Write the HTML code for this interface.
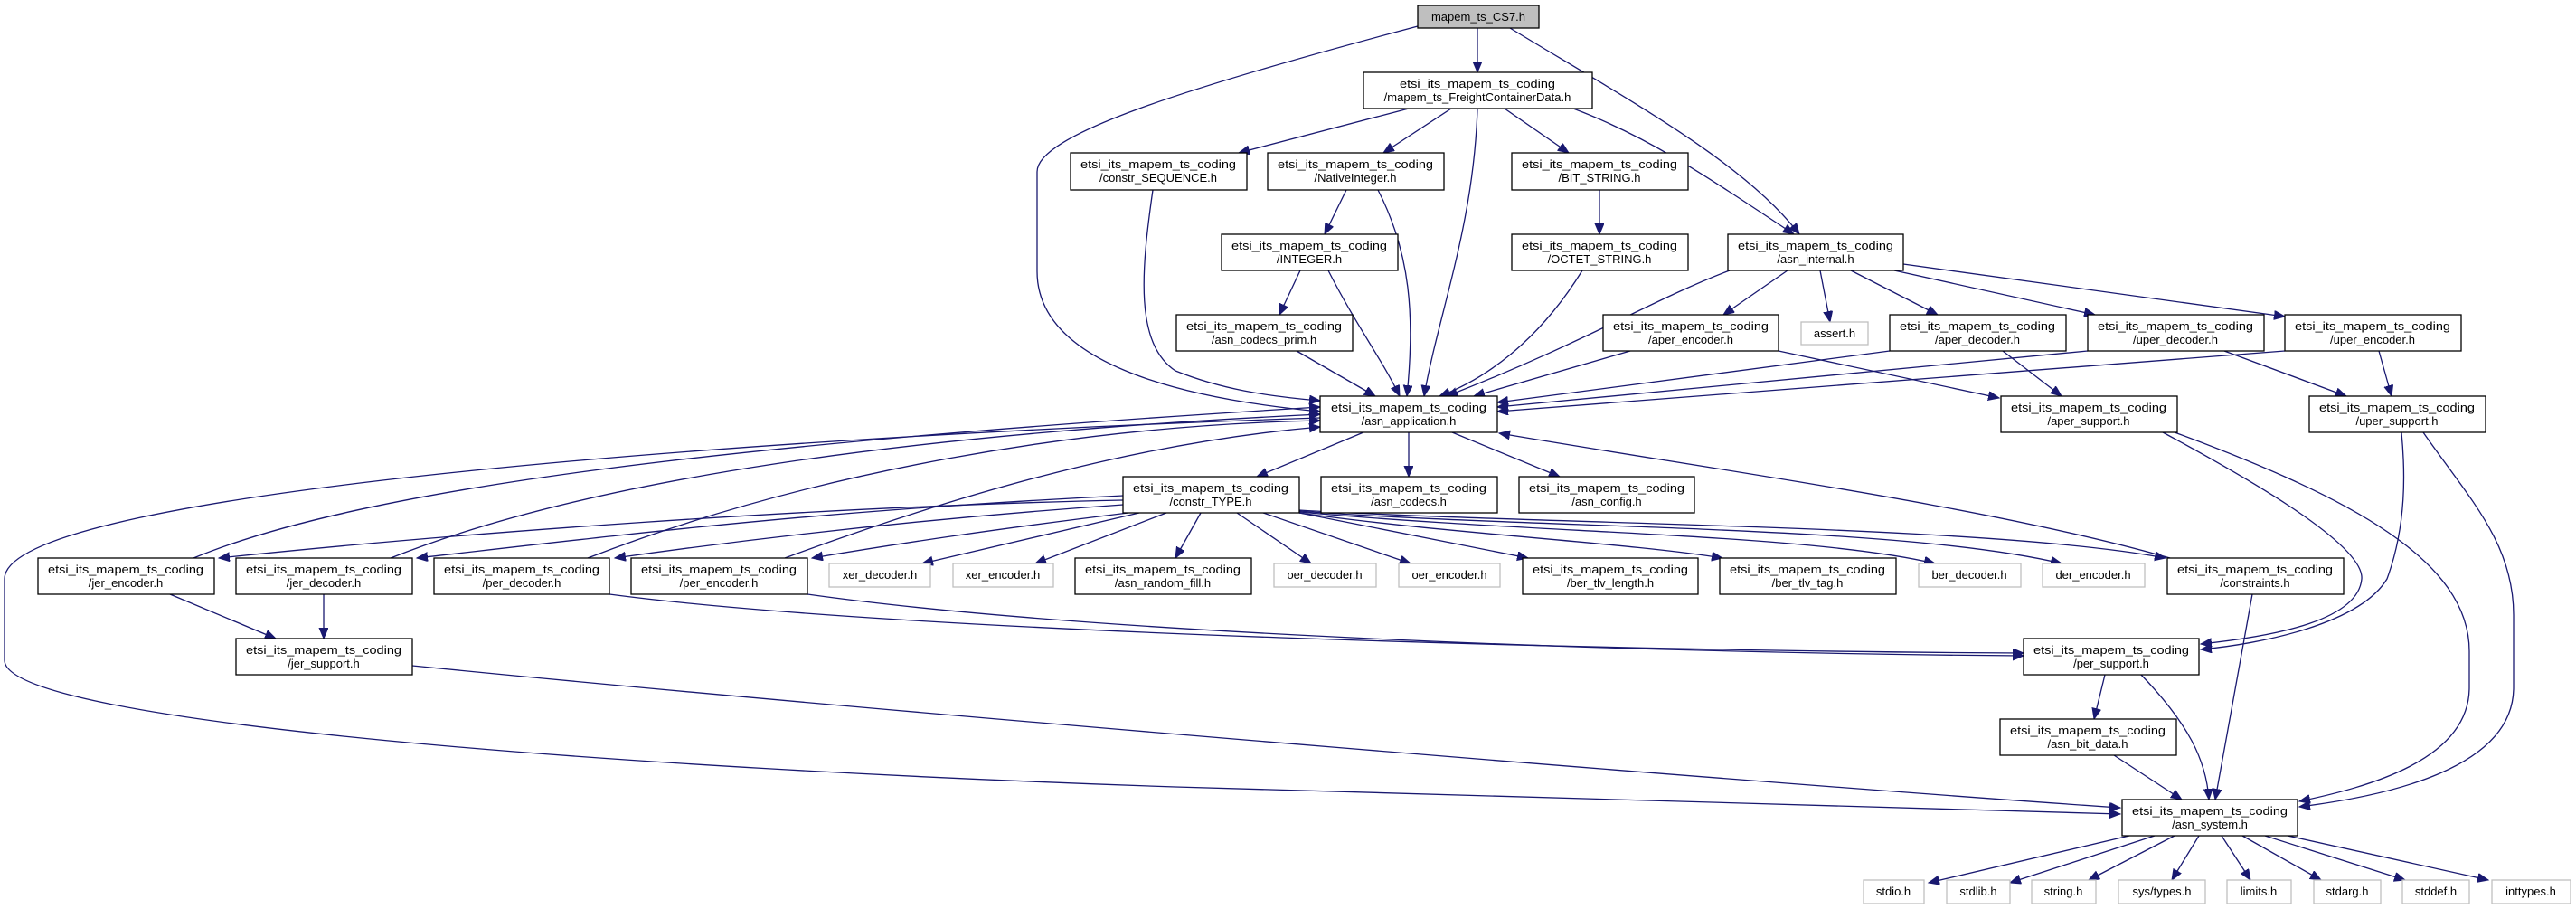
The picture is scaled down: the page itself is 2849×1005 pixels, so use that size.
<!DOCTYPE html>
<html><head><meta charset="utf-8"><style>
html,body{margin:0;padding:0;background:#fff;}
svg{display:block;}
text{font-family:"Liberation Sans",sans-serif;font-size:13px;fill:#000;text-anchor:middle;}
.n{fill:#fff;stroke:#000;stroke-width:1.3;}
.g{fill:#fff;stroke:#bfbfbf;stroke-width:1.3;}
.e{fill:none;stroke:#191970;stroke-width:1.3;marker-end:url(#a);}
</style></head><body>
<svg width="2849" height="1005" viewBox="0 0 2849 1005" xmlns="http://www.w3.org/2000/svg">
<defs><marker id="a" markerUnits="userSpaceOnUse" markerWidth="14" markerHeight="12" refX="12" refY="5" orient="auto"><path d="M0,0 L12,5 L0,10 z" fill="#191970" stroke="#191970"/></marker></defs>

<!-- edges -->
<path class="e" d="M1634,31 L1634,80"/>
<path class="e" d="M1670,31 C1800,110 1930,180 1990,259"/>
<path class="e" d="M1568,29 C1300,100 1147,150 1147,190 L1147,300 C1147,400 1300,440 1460,455"/>
<path class="e" d="M1558,120 L1370,169"/>
<path class="e" d="M1605,120 L1530,169"/>
<path class="e" d="M1634,120 C1630,250 1590,350 1575,438"/>
<path class="e" d="M1664,120 L1735,169"/>
<path class="e" d="M1740,120 C1820,150 1880,190 1984,259"/>
<path class="e" d="M1275,210 C1262,300 1255,380 1300,410 C1350,430 1400,438 1460,443"/>
<path class="e" d="M1489,210 L1465,259"/>
<path class="e" d="M1524,210 C1560,280 1565,350 1556,438"/>
<path class="e" d="M1438,299 L1415,348"/>
<path class="e" d="M1469,299 C1500,360 1530,400 1548,438"/>
<path class="e" d="M1434,388 L1521,438"/>
<path class="e" d="M1750,299 C1700,380 1640,420 1592,438"/>
<path class="e" d="M1769,210 L1769,259"/>
<path class="e" d="M1913,299 C1830,330 1750,380 1600,438"/>
<path class="e" d="M2013,299 L2024,356"/>
<path class="e" d="M1977,299 L1906,348"/>
<path class="e" d="M2047,299 L2143,348"/>
<path class="e" d="M2095,299 L2317,348"/>
<path class="e" d="M2105,292 L2527,350"/>
<path class="e" d="M1803,388 L1630,438"/>
<path class="e" d="M1967,388 L2211,440"/>
<path class="e" d="M2090,388 L1656,445"/>
<path class="e" d="M2215,388 L2280,438"/>
<path class="e" d="M2309,388 L1656,450"/>
<path class="e" d="M2460,388 L2595,438"/>
<path class="e" d="M2527,388 L1656,455"/>
<path class="e" d="M2631,388 L2645,438"/>
<path class="e" d="M2392,478 C2470,520 2615,600 2612,640 C2608,685 2520,703 2434,712"/>
<path class="e" d="M2405,478 C2600,550 2731,620 2731,720 L2731,760 C2731,840 2620,870 2543,886"/>
<path class="e" d="M2656,478 C2660,520 2662,580 2640,640 C2610,690 2500,712 2434,718"/>
<path class="e" d="M2680,478 C2730,550 2780,600 2780,680 L2780,760 C2780,850 2640,880 2543,892"/>
<path class="e" d="M2491,657 L2450,884"/>
<path class="e" d="M2328,746 L2316,795"/>
<path class="e" d="M2368,746 C2420,800 2440,840 2443,884"/>
<path class="e" d="M2338,835 L2413,884"/>
<path class="e" d="M2355,924 L2133,976"/>
<path class="e" d="M2383,924 L2223,976"/>
<path class="e" d="M2405,924 L2310,973"/>
<path class="e" d="M2432,924 L2402,973"/>
<path class="e" d="M2457,924 L2489,973"/>
<path class="e" d="M2480,924 L2567,973"/>
<path class="e" d="M2505,924 L2660,973"/>
<path class="e" d="M2530,924 L2752,973"/>
<path class="e" d="M1508,478 L1390,527"/>
<path class="e" d="M1558,478 L1558,527"/>
<path class="e" d="M1606,478 L1725,527"/>
<path class="e" d="M2400,617 C2200,560 1900,520 1658,479"/>
<path class="e" d="M1460,462 C900,480 5,540 5,640 L5,730 C5,800 700,850 1300,870 C1800,885 2200,895 2345,900"/>
<path class="e" d="M214,617 C400,540 800,490 1460,450"/>
<path class="e" d="M432,617 C650,530 1000,480 1460,458"/>
<path class="e" d="M650,617 C900,520 1200,470 1460,465"/>
<path class="e" d="M868,617 C1050,550 1250,490 1460,472"/>
<path class="e" d="M1242,553 C900,560 500,590 242,617"/>
<path class="e" d="M1242,548 C900,565 700,590 461,617"/>
<path class="e" d="M1242,558 C1000,575 800,600 680,617"/>
<path class="e" d="M1248,567 C1100,585 1000,600 898,617"/>
<path class="e" d="M1260,567 L1020,623"/>
<path class="e" d="M1290,567 L1145,623"/>
<path class="e" d="M1328,567 L1300,617"/>
<path class="e" d="M1368,567 L1450,623"/>
<path class="e" d="M1397,567 L1560,623"/>
<path class="e" d="M1437,567 L1690,617"/>
<path class="e" d="M1437,567 C1600,590 1800,600 1905,617"/>
<path class="e" d="M1437,566 C1700,590 2000,590 2140,623"/>
<path class="e" d="M1437,565 C1700,585 2100,580 2280,623"/>
<path class="e" d="M1437,564 C1700,580 2200,580 2395,617"/>
<path class="e" d="M674,657 C1000,700 1800,720 2238,722"/>
<path class="e" d="M893,657 C1200,700 1800,722 2238,725"/>
<path class="e" d="M188,657 L305,706"/>
<path class="e" d="M358,657 L358,706"/>
<path class="e" d="M456,736 C1000,790 2000,870 2345,893"/>

<!-- nodes -->
<rect x="1568" y="6" width="134" height="25" fill="#bfbfbf" stroke="#000" stroke-width="1.3"/><text x="1635" y="23">mapem_ts_CS7.h</text>

<rect class="n" x="1508" y="80" width="253" height="40"/><text x="1634" y="97" textLength="172" lengthAdjust="spacingAndGlyphs">etsi_its_mapem_ts_coding</text><text x="1634" y="112">/mapem_ts_FreightContainerData.h</text>

<rect class="n" x="1184" y="169" width="195" height="41"/><text x="1281" y="186" textLength="172" lengthAdjust="spacingAndGlyphs">etsi_its_mapem_ts_coding</text><text x="1281" y="201">/constr_SEQUENCE.h</text>
<rect class="n" x="1402" y="169" width="195" height="41"/><text x="1499" y="186" textLength="172" lengthAdjust="spacingAndGlyphs">etsi_its_mapem_ts_coding</text><text x="1499" y="201">/NativeInteger.h</text>
<rect class="n" x="1672" y="169" width="195" height="41"/><text x="1769" y="186" textLength="172" lengthAdjust="spacingAndGlyphs">etsi_its_mapem_ts_coding</text><text x="1769" y="201">/BIT_STRING.h</text>

<rect class="n" x="1351" y="259" width="195" height="40"/><text x="1448" y="276" textLength="172" lengthAdjust="spacingAndGlyphs">etsi_its_mapem_ts_coding</text><text x="1448" y="291">/INTEGER.h</text>
<rect class="n" x="1672" y="259" width="195" height="40"/><text x="1769" y="276" textLength="172" lengthAdjust="spacingAndGlyphs">etsi_its_mapem_ts_coding</text><text x="1769" y="291">/OCTET_STRING.h</text>
<rect class="n" x="1911" y="259" width="194" height="40"/><text x="2008" y="276" textLength="172" lengthAdjust="spacingAndGlyphs">etsi_its_mapem_ts_coding</text><text x="2008" y="291">/asn_internal.h</text>

<rect class="n" x="1301" y="348" width="195" height="40"/><text x="1398" y="365" textLength="172" lengthAdjust="spacingAndGlyphs">etsi_its_mapem_ts_coding</text><text x="1398" y="380">/asn_codecs_prim.h</text>
<rect class="n" x="1773" y="348" width="194" height="40"/><text x="1870" y="365" textLength="172" lengthAdjust="spacingAndGlyphs">etsi_its_mapem_ts_coding</text><text x="1870" y="380">/aper_encoder.h</text>
<rect class="g" x="1992" y="356" width="74" height="25"/><text x="2029" y="373">assert.h</text>
<rect class="n" x="2090" y="348" width="195" height="40"/><text x="2187" y="365" textLength="172" lengthAdjust="spacingAndGlyphs">etsi_its_mapem_ts_coding</text><text x="2187" y="380">/aper_decoder.h</text>
<rect class="n" x="2309" y="348" width="195" height="40"/><text x="2406" y="365" textLength="172" lengthAdjust="spacingAndGlyphs">etsi_its_mapem_ts_coding</text><text x="2406" y="380">/uper_decoder.h</text>
<rect class="n" x="2527" y="348" width="195" height="40"/><text x="2624" y="365" textLength="172" lengthAdjust="spacingAndGlyphs">etsi_its_mapem_ts_coding</text><text x="2624" y="380">/uper_encoder.h</text>

<rect class="n" x="1460" y="438" width="196" height="40"/><text x="1558" y="455" textLength="172" lengthAdjust="spacingAndGlyphs">etsi_its_mapem_ts_coding</text><text x="1558" y="470">/asn_application.h</text>
<rect class="n" x="2213" y="438" width="195" height="40"/><text x="2310" y="455" textLength="172" lengthAdjust="spacingAndGlyphs">etsi_its_mapem_ts_coding</text><text x="2310" y="470">/aper_support.h</text>
<rect class="n" x="2554" y="438" width="195" height="40"/><text x="2651" y="455" textLength="172" lengthAdjust="spacingAndGlyphs">etsi_its_mapem_ts_coding</text><text x="2651" y="470">/uper_support.h</text>

<rect class="n" x="1242" y="527" width="195" height="40"/><text x="1339" y="544" textLength="172" lengthAdjust="spacingAndGlyphs">etsi_its_mapem_ts_coding</text><text x="1339" y="559">/constr_TYPE.h</text>
<rect class="n" x="1461" y="527" width="195" height="40"/><text x="1558" y="544" textLength="172" lengthAdjust="spacingAndGlyphs">etsi_its_mapem_ts_coding</text><text x="1558" y="559">/asn_codecs.h</text>
<rect class="n" x="1680" y="527" width="194" height="40"/><text x="1777" y="544" textLength="172" lengthAdjust="spacingAndGlyphs">etsi_its_mapem_ts_coding</text><text x="1777" y="559">/asn_config.h</text>

<rect class="n" x="42" y="617" width="195" height="40"/><text x="139" y="634" textLength="172" lengthAdjust="spacingAndGlyphs">etsi_its_mapem_ts_coding</text><text x="139" y="649">/jer_encoder.h</text>
<rect class="n" x="261" y="617" width="195" height="40"/><text x="358" y="634" textLength="172" lengthAdjust="spacingAndGlyphs">etsi_its_mapem_ts_coding</text><text x="358" y="649">/jer_decoder.h</text>
<rect class="n" x="480" y="617" width="194" height="40"/><text x="577" y="634" textLength="172" lengthAdjust="spacingAndGlyphs">etsi_its_mapem_ts_coding</text><text x="577" y="649">/per_decoder.h</text>
<rect class="n" x="698" y="617" width="195" height="40"/><text x="795" y="634" textLength="172" lengthAdjust="spacingAndGlyphs">etsi_its_mapem_ts_coding</text><text x="795" y="649">/per_encoder.h</text>
<rect class="g" x="917" y="623" width="112" height="26"/><text x="973" y="640">xer_decoder.h</text>
<rect class="g" x="1054" y="623" width="111" height="26"/><text x="1109" y="640">xer_encoder.h</text>
<rect class="n" x="1189" y="617" width="195" height="40"/><text x="1286" y="634" textLength="172" lengthAdjust="spacingAndGlyphs">etsi_its_mapem_ts_coding</text><text x="1286" y="649">/asn_random_fill.h</text>
<rect class="g" x="1409" y="623" width="113" height="26"/><text x="1465" y="640">oer_decoder.h</text>
<rect class="g" x="1547" y="623" width="112" height="26"/><text x="1603" y="640">oer_encoder.h</text>
<rect class="n" x="1684" y="617" width="194" height="40"/><text x="1781" y="634" textLength="172" lengthAdjust="spacingAndGlyphs">etsi_its_mapem_ts_coding</text><text x="1781" y="649">/ber_tlv_length.h</text>
<rect class="n" x="1902" y="617" width="195" height="40"/><text x="1999" y="634" textLength="172" lengthAdjust="spacingAndGlyphs">etsi_its_mapem_ts_coding</text><text x="1999" y="649">/ber_tlv_tag.h</text>
<rect class="g" x="2122" y="623" width="113" height="26"/><text x="2178" y="640">ber_decoder.h</text>
<rect class="g" x="2259" y="623" width="113" height="26"/><text x="2315" y="640">der_encoder.h</text>
<rect class="n" x="2397" y="617" width="195" height="40"/><text x="2494" y="634" textLength="172" lengthAdjust="spacingAndGlyphs">etsi_its_mapem_ts_coding</text><text x="2494" y="649">/constraints.h</text>

<rect class="n" x="261" y="706" width="195" height="40"/><text x="358" y="723" textLength="172" lengthAdjust="spacingAndGlyphs">etsi_its_mapem_ts_coding</text><text x="358" y="738">/jer_support.h</text>
<rect class="n" x="2238" y="706" width="194" height="40"/><text x="2335" y="723" textLength="172" lengthAdjust="spacingAndGlyphs">etsi_its_mapem_ts_coding</text><text x="2335" y="738">/per_support.h</text>
<rect class="n" x="2212" y="795" width="195" height="40"/><text x="2309" y="812" textLength="172" lengthAdjust="spacingAndGlyphs">etsi_its_mapem_ts_coding</text><text x="2309" y="827">/asn_bit_data.h</text>
<rect class="n" x="2347" y="884" width="194" height="40"/><text x="2444" y="901" textLength="172" lengthAdjust="spacingAndGlyphs">etsi_its_mapem_ts_coding</text><text x="2444" y="916">/asn_system.h</text>

<rect class="g" x="2061" y="973" width="67" height="26"/><text x="2094" y="990">stdio.h</text>
<rect class="g" x="2153" y="973" width="70" height="26"/><text x="2188" y="990">stdlib.h</text>
<rect class="g" x="2247" y="973" width="71" height="26"/><text x="2282" y="990">string.h</text>
<rect class="g" x="2343" y="973" width="96" height="26"/><text x="2391" y="990">sys/types.h</text>
<rect class="g" x="2463" y="973" width="71" height="26"/><text x="2498" y="990">limits.h</text>
<rect class="g" x="2559" y="973" width="74" height="26"/><text x="2596" y="990">stdarg.h</text>
<rect class="g" x="2657" y="973" width="74" height="26"/><text x="2694" y="990">stddef.h</text>
<rect class="g" x="2756" y="973" width="87" height="26"/><text x="2799" y="990">inttypes.h</text>
</svg>
</body></html>
